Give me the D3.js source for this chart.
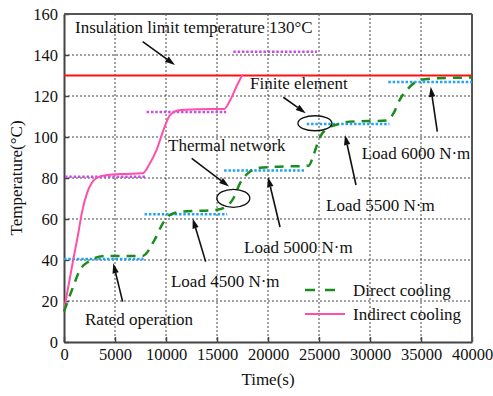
<!DOCTYPE html>
<html>
<head>
<meta charset="utf-8">
<script src="https://cdn.jsdelivr.net/npm/d3@7"></script>
<style>
  html, body { margin: 0; padding: 0; background: #fff; }
  svg { display: block; }
</style>
</head>
<body>
<svg id="chart" width="493" height="396"></svg>
<script>
// Temperature rise under stepped loads: time (s) vs temperature (°C)
const xTicks = [0, 5000, 10000, 15000, 20000, 25000, 30000, 35000, 40000];
const yTicks = [0, 20, 40, 60, 80, 100, 120, 140, 160];

// Direct cooling (finite element), [time, temperature]
const directCooling = [
  [0, 14.8], [900, 27], [1550, 35], [2400, 39.2], [4000, 42], [7700, 42],
  [8900, 50], [9700, 58], [10400, 62], [11500, 63.5], [15000, 64.5], [15900, 66],
  [16600, 70], [17250, 77.4], [18200, 83], [19200, 85], [21000, 85.5], [24000, 86],
  [24450, 91], [25100, 100], [25750, 104], [26700, 106], [28000, 107.5], [31600, 108],
  [32300, 111.5], [32900, 118], [33900, 124.5], [34900, 127.8], [36000, 128.5], [40000, 129]
];

// Indirect cooling (finite element), [time, temperature]
const indirectCooling = [
  [0, 15.5], [900, 40], [1400, 53], [1750, 63], [2250, 72.5], [2700, 77.4],
  [3200, 80], [4200, 81.5], [6000, 82], [7700, 82.3], [8400, 87], [9100, 94],
  [9750, 103.4], [10400, 110.7], [11400, 113.2], [13000, 113.5], [15700, 113.7],
  [16300, 118], [16900, 124.5], [17500, 130.5]
];

// Thermal network steady-state levels: [start, end, temperature]
const networkDirect = [
  [0, 7800, 40.5], [7900, 16000, 62.3], [15700, 23700, 83.6],
  [23800, 31900, 106.3], [31800, 40000, 126.8]
];
const networkIndirect = [
  [100, 8100, 80.6], [8100, 15900, 112.2], [16600, 24800, 141.6]
];

const insulationLimit = 130;

// Annotation texts: [text, time, temperature]
const notes = [
  ["Insulation limit temperature 130°C", 1080, 150.7],
  ["Thermal network", 10200, 93.4],
  ["Finite element", 18240, 123.4],
  ["Rated operation", 2060, 8.3],
  ["Load 4500 N·m", 10490, 27],
  ["Load 5000 N·m", 17650, 43.6],
  ["Load 5500 N·m", 25690, 64],
  ["Load 6000 N·m", 29190, 89.1]
];
// Arrows: [fromTime, fromTemp, toTime, toTemp]
const arrows = [
  [7715, 146.5, 10880, 135.1],
  [12520, 89.6, 16180, 75.8],
  [21500, 119.4, 23700, 111.6],
  [5750, 19.7, 4830, 38.4],
  [13890, 39.2, 12620, 60.3],
  [21180, 56.1, 20000, 80.5],
  [28630, 76.6, 27550, 101],
  [36600, 102.6, 35950, 124.5]
];
// Ellipses marking the two methods: [time, temperature, rx, ry]
const rings = [
  [16600, 70.1, 16.5, 9],
  [24600, 106.7, 17, 7.5]
];

const legendItems = [
  { name: "Direct cooling", color: "#1a8c1a", dash: "10,10", width: 2.5 },
  { name: "Indirect cooling", color: "#ff4fa8", dash: null, width: 2 }
];

const FONT = "'Liberation Serif', 'Times New Roman', Times, serif";

const margin = { top: 14, right: 21, bottom: 54, left: 64 };
const W = 493, H = 396;
const iw = W - margin.left - margin.right;
const ih = H - margin.top - margin.bottom;

const svg = d3.select("#chart");
const g = svg.append("g").attr("transform", `translate(${margin.left},${margin.top})`);

const x = d3.scaleLinear().domain([0, 40000]).range([0, iw]);
const y = d3.scaleLinear().domain([0, 160]).range([ih, 0]);

// grid
g.append("g").selectAll("line").data(xTicks.slice(1, -1)).join("line")
  .attr("x1", d => x(d)).attr("x2", d => x(d)).attr("y1", 0).attr("y2", ih)
  .attr("stroke", "#444").attr("stroke-width", 1).attr("stroke-dasharray", "2,2");
g.append("g").selectAll("line").data(yTicks.slice(1, -1)).join("line")
  .attr("y1", d => y(d)).attr("y2", d => y(d)).attr("x1", 0).attr("x2", iw)
  .attr("stroke", "#444").attr("stroke-width", 1).attr("stroke-dasharray", "2,2");

// axes
const xAxis = g.append("g").attr("transform", `translate(0,${ih})`)
  .call(d3.axisBottom(x).tickValues(xTicks).tickFormat(d3.format("d")).tickSizeInner(-5).tickSizeOuter(0).tickPadding(6));
const yAxis = g.append("g")
  .call(d3.axisLeft(y).tickValues(yTicks).tickSizeInner(-5).tickSizeOuter(0).tickPadding(6));
[xAxis, yAxis].forEach(a => {
  a.attr("font-family", null);
  a.select(".domain").attr("stroke", "#444").attr("stroke-width", 2);
  a.selectAll(".tick line").attr("stroke", "#444").attr("stroke-width", 1.5);
  a.selectAll(".tick text").attr("fill", "#111")
    .style("font-family", FONT).style("font-size", "16.5px");
});
// frame top and right
g.append("line").attr("x1", 0).attr("x2", iw).attr("y1", 0).attr("y2", 0)
  .attr("stroke", "#555").attr("stroke-width", 2);
g.append("line").attr("x1", iw).attr("x2", iw).attr("y1", 0).attr("y2", ih)
  .attr("stroke", "#555").attr("stroke-width", 2);

// insulation limit
g.append("line").attr("x1", 0).attr("x2", iw)
  .attr("y1", y(insulationLimit)).attr("y2", y(insulationLimit))
  .attr("stroke", "#ff1010").attr("stroke-width", 2);

// thermal network levels
g.append("g").selectAll("line").data(networkIndirect).join("line")
  .attr("x1", d => x(d[0])).attr("x2", d => x(d[1]))
  .attr("y1", d => y(d[2])).attr("y2", d => y(d[2]))
  .attr("stroke", "#c84ce8").attr("stroke-width", 2.5).attr("stroke-dasharray", "2.5,1.8");
g.append("g").selectAll("line").data(networkDirect).join("line")
  .attr("x1", d => x(d[0])).attr("x2", d => x(d[1]))
  .attr("y1", d => y(d[2])).attr("y2", d => y(d[2]))
  .attr("stroke", "#1fa3f5").attr("stroke-width", 2.5).attr("stroke-dasharray", "2.5,1.8");

// finite element curves
const line = d3.line().x(d => x(d[0])).y(d => y(d[1])).curve(d3.curveMonotoneX);
g.append("path").datum(indirectCooling).attr("d", line)
  .attr("fill", "none").attr("stroke", legendItems[1].color).attr("stroke-width", 2);
g.append("path").datum(directCooling).attr("d", line)
  .attr("fill", "none").attr("stroke", legendItems[0].color).attr("stroke-width", 2.5)
  .attr("stroke-dasharray", "9,7");

// rings
g.append("g").selectAll("ellipse").data(rings).join("ellipse")
  .attr("cx", d => x(d[0])).attr("cy", d => y(d[1]))
  .attr("rx", d => d[2]).attr("ry", d => d[3])
  .attr("fill", "none").attr("stroke", "#111").attr("stroke-width", 1.3);

// arrows
const ag = g.append("g");
arrows.forEach(a => {
  const x1 = x(a[0]), y1 = y(a[1]), x2 = x(a[2]), y2 = y(a[3]);
  const ang = Math.atan2(y2 - y1, x2 - x1);
  const L = 10, Wd = 3.2;
  const bx = x2 - L * Math.cos(ang), by = y2 - L * Math.sin(ang);
  ag.append("line").attr("x1", x1).attr("y1", y1).attr("x2", bx).attr("y2", by)
    .attr("stroke", "#111").attr("stroke-width", 1.6);
  const px = -Math.sin(ang) * Wd, py = Math.cos(ang) * Wd;
  ag.append("polygon")
    .attr("points", `${x2},${y2} ${bx + px},${by + py} ${bx - px},${by - py}`)
    .attr("fill", "#111");
});

// annotation text
g.append("g").selectAll("text").data(notes).join("text")
  .attr("x", d => x(d[1])).attr("y", d => y(d[2]))
  .style("font-family", FONT).style("font-size", "17px")
  .attr("fill", "#111").text(d => d[0]);

// legend
const lg = g.append("g").attr("transform", `translate(${305 - margin.left},${290 - margin.top})`);
legendItems.forEach((it, i) => {
  lg.append("line").attr("x1", 0).attr("x2", i === 0 ? 32 : 40)
    .attr("y1", i * 24).attr("y2", i * 24)
    .attr("stroke", it.color).attr("stroke-width", it.width)
    .attr("stroke-dasharray", it.dash);
  lg.append("text").attr("x", 48).attr("y", i * 24 + 6)
    .style("font-family", FONT).style("font-size", "17px")
    .attr("fill", "#111").text(it.name);
});

// axis titles
svg.append("text").attr("x", margin.left + iw / 2).attr("y", 385)
  .attr("text-anchor", "middle").style("font-family", FONT).style("font-size", "17px")
  .attr("fill", "#111").text("Time(s)");
svg.append("text").attr("transform", `translate(22,${margin.top + ih / 2}) rotate(-90)`)
  .attr("text-anchor", "middle").style("font-family", FONT).style("font-size", "17px")
  .attr("fill", "#111").text("Temperature(°C)");
</script>
</body>
</html>
